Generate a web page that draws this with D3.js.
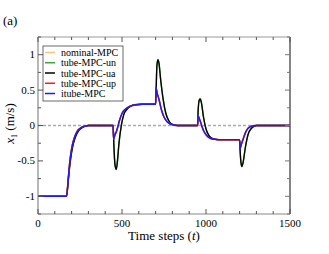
<!DOCTYPE html>
<html>
<head>
<meta charset="utf-8">
<script src="https://cdn.jsdelivr.net/npm/d3@7"></script>
<style>
  body { margin: 0; background: #fff; }
</style>
</head>
<body>
<div id="chart-wrapper"></div>
<script>
// series names and colours
var seriesNames = ["nominal-MPC", "tube-MPC-un", "tube-MPC-ua", "tube-MPC-up", "itube-MPC"];
var seriesColors = ["#f7c67c", "#3aa83a", "#000000", "#ff1a1a", "#1a1aff"];

// time samples (tube-MPC-ua, black)
var tUa = [0, 170, 180, 190, 200, 210, 225, 240, 260, 280, 300, 447, 452, 458, 466, 473, 482, 496, 510, 530, 550, 580, 620,
  700, 703, 708, 714, 720, 730, 745, 760, 780, 800, 830, 950, 953, 960, 966, 972, 985, 1000, 1020, 1040, 1070,
  1200, 1203, 1208, 1214, 1220, 1235, 1250, 1270, 1300, 1500];
var xUa = [-1, -1, -0.78, -0.55, -0.38, -0.26, -0.15, -0.08, -0.035, -0.01, 0, 0, -0.3, -0.55, -0.62, -0.5, -0.25, 0, 0.15, 0.23, 0.27, 0.295, 0.3,
  0.3, 0.5, 0.85, 0.93, 0.88, 0.65, 0.37, 0.18, 0.06, 0.015, 0, 0, 0.2, 0.36, 0.375, 0.33, 0.12, -0.05, -0.15, -0.185, -0.2,
  -0.2, -0.35, -0.52, -0.58, -0.53, -0.3, -0.13, -0.04, 0, 0];

// itube-MPC (blue)
var tIt = [0, 170, 180, 190, 200, 210, 225, 240, 260, 280, 300, 447, 450, 458, 466, 475, 485, 500, 520, 545, 580, 620,
  700, 702, 710, 720, 735, 750, 770, 800, 830, 950, 952, 960, 970, 985, 1000, 1020, 1050, 1080,
  1200, 1202, 1210, 1220, 1235, 1250, 1270, 1300, 1500];
var xIt = [-1, -1, -0.75, -0.5, -0.33, -0.22, -0.12, -0.06, -0.025, -0.008, 0, 0, -0.19, -0.13, -0.09, -0.02, 0.07, 0.17, 0.23, 0.27, 0.29, 0.3,
  0.3, 0.53, 0.45, 0.37, 0.22, 0.12, 0.05, 0.01, 0, 0, 0.14, 0.1, 0.03, -0.07, -0.13, -0.175, -0.195, -0.2,
  -0.2, -0.33, -0.27, -0.2, -0.1, -0.04, -0.01, 0, 0];

var xTicks = [0, 500, 1000, 1500];
var yTicks = [-1, -0.5, 0, 0.5, 1];

var serif = "'Liberation Serif', 'Times New Roman', 'DejaVu Serif', serif";

var W = 329, H = 254;
var margin = {top: 37, right: 39, bottom: 40, left: 38},
    width = W - margin.left - margin.right,
    height = H - margin.top - margin.bottom;

var svg = d3.select("#chart-wrapper")
  .append("svg")
    .attr("width", W)
    .attr("height", H)
    .attr("font-family", serif)
    .style("font-family", serif)
  .append("g")
    .attr("transform", `translate(${margin.left},${margin.top})`);

var x = d3.scaleLinear().domain([0, 1500]).range([0, width]);
var y = d3.scaleLinear().domain([-1.25, 1.25]).range([height, 0]);

// zero reference line
svg.append("line")
  .attr("x1", 0).attr("x2", width)
  .attr("y1", y(0)).attr("y2", y(0))
  .attr("stroke", "#aaa")
  .attr("stroke-width", 1.5)
  .attr("stroke-dasharray", "3,2");

var line = d3.line()
  .x(d => x(d[0]))
  .y(d => y(d[1]))
  .curve(d3.curveMonotoneX);

var ua = d3.zip(tUa, xUa), it = d3.zip(tIt, xIt);
// hidden series lie under the visible ones
var seriesData = [it, ua, ua, it, it];
var widths = [1.5, 1.5, 1.3, 1.5, 1.4];

seriesData.forEach((d, i) => {
  svg.append("path")
    .datum(d)
    .attr("fill", "none")
    .attr("stroke", seriesColors[i])
    .attr("stroke-width", widths[i])
    .attr("d", line);
});

// frame
var frame = [
  [0, 0, width, 0, "#999"],
  [0, height, width, height, "#888"],
  [0, 0, 0, height, "#888"],
  [width, 0, width, height, "#333"]
];
svg.selectAll("frameLines")
  .data(frame)
  .enter()
  .append("line")
  .attr("x1", d => d[0]).attr("y1", d => d[1])
  .attr("x2", d => d[2]).attr("y2", d => d[3])
  .attr("stroke", d => d[4])
  .attr("stroke-width", 1.2);

// inward ticks on all four sides
var xMinor = d3.range(0, 1501, 100);
var yMinor = d3.range(-1.25, 1.26, 0.25);
function tickLen(major) { return major ? 5 : 3; }

xMinor.forEach(t => {
  var L = tickLen(t % 500 === 0);
  svg.append("line").attr("x1", x(t)).attr("x2", x(t)).attr("y1", height).attr("y2", height - L).attr("stroke", "#555");
  svg.append("line").attr("x1", x(t)).attr("x2", x(t)).attr("y1", 0).attr("y2", L).attr("stroke", "#555");
});
yMinor.forEach(v => {
  var major = Math.abs(v * 2 - Math.round(v * 2)) < 1e-6;
  var L = tickLen(major);
  svg.append("line").attr("x1", 0).attr("x2", L).attr("y1", y(v)).attr("y2", y(v)).attr("stroke", "#555");
  svg.append("line").attr("x1", width).attr("x2", width - L).attr("y1", y(v)).attr("y2", y(v)).attr("stroke", "#777");
});

// tick labels
svg.selectAll("xLabels")
  .data(xTicks)
  .enter()
  .append("text")
  .attr("x", d => x(d))
  .attr("y", height + 13)
  .attr("text-anchor", "middle")
  .attr("font-size", 11)
  .text(d => d);

svg.selectAll("yLabels")
  .data(yTicks)
  .enter()
  .append("text")
  .attr("x", -3)
  .attr("y", d => y(d) + 3.5)
  .attr("text-anchor", "end")
  .attr("font-size", 11)
  .text(d => d);

// axis titles
var xt = svg.append("text")
  .attr("x", width / 2)
  .attr("y", height + 26)
  .attr("text-anchor", "middle")
  .attr("font-size", 13);
xt.append("tspan").text("Time steps (");
xt.append("tspan").attr("font-style", "italic").text("t");
xt.append("tspan").text(")");

var yt = svg.append("text")
  .attr("transform", `translate(-24,${height / 2 - 2}) rotate(-90)`)
  .attr("text-anchor", "middle")
  .attr("font-size", 13);
yt.append("tspan").attr("font-style", "italic").text("x");
yt.append("tspan").attr("font-size", 8).attr("dy", 3).text("1");
yt.append("tspan").attr("dy", -3).text(" (m/s)");

svg.append("text")
  .attr("x", 3 - margin.left)
  .attr("y", 25 - margin.top)
  .attr("font-size", 13)
  .text("(a)");

// legend
var lg = svg.append("g").attr("transform", "translate(5,9)");
lg.append("rect")
  .attr("width", 80).attr("height", 55)
  .attr("fill", "#fff")
  .attr("stroke", "#444")
  .attr("stroke-width", 0.8);
seriesNames.forEach((name, i) => {
  var yy = 6.5 + i * 10.25;
  lg.append("line")
    .attr("x1", 2).attr("x2", 12)
    .attr("y1", yy).attr("y2", yy)
    .attr("stroke", seriesColors[i])
    .attr("stroke-width", 1.5);
  lg.append("text")
    .attr("x", 18)
    .attr("y", yy + 3.5)
    .attr("font-size", 10)
    .text(name);
});
</script>
</body>
</html>
